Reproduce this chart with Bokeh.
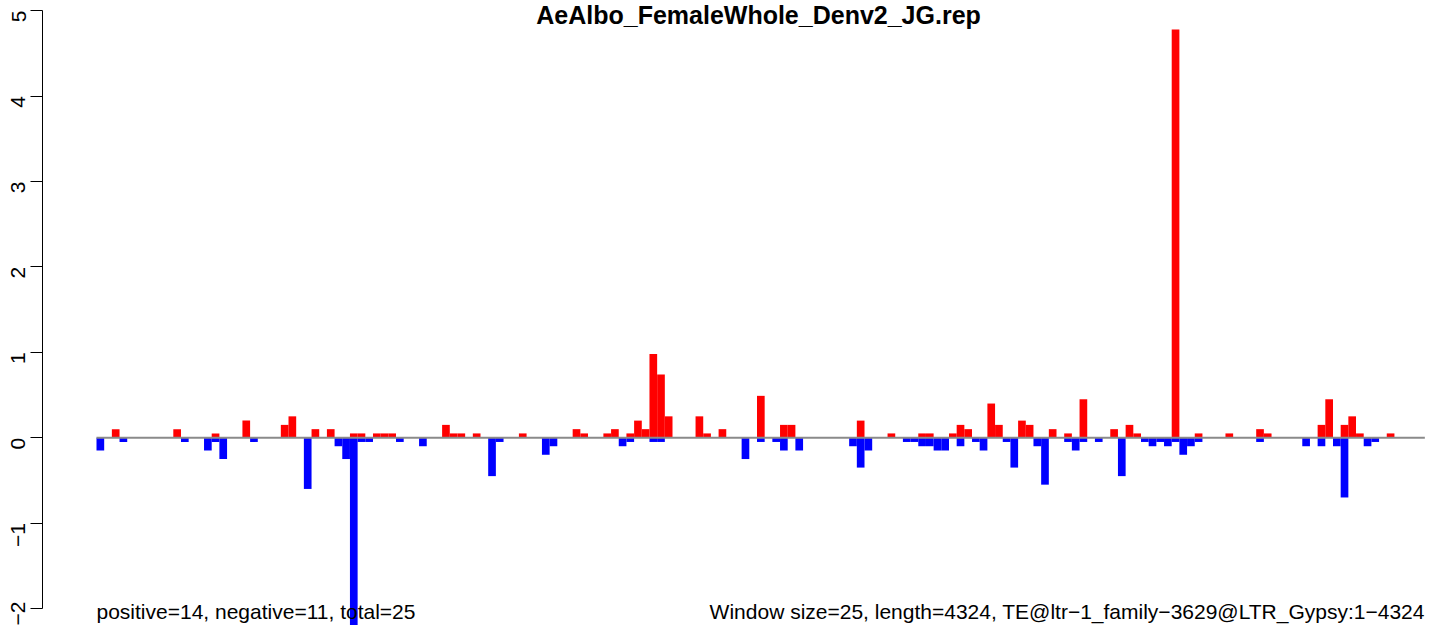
import math
from bokeh.plotting import figure
from bokeh.models import Range1d, LinearAxis, FixedTicker, Label, ColumnDataSource
from bokeh.embed import file_html
from bokeh.resources import INLINE

# ---- data ----
title_text = "AeAlbo_FemaleWhole_Denv2_JG.rep"
left_note = "positive=14, negative=11, total=25"
right_note = "Window size=25, length=4324, TE@ltr\u22121_family\u22123629@LTR_Gypsy:1\u22124324"
window_size = 25
seq_length = 4324
y_ticks = [-2, -1, 0, 1, 2, 3, 4, 5]

pos_windows = [2, 10, 15, 19, 24, 25, 28, 30, 33, 34, 36, 37, 38, 45, 46, 47, 49, 55,
               62, 63, 66, 67, 69, 70, 71, 72, 73, 74, 78, 79, 81, 86, 89, 90, 99, 103,
               107, 108, 111, 112, 113, 116, 117, 120, 121, 124, 126, 128, 132, 134, 135,
               140, 143, 147, 151, 152, 159, 160, 162, 163, 164, 168]
pos_values = [0.1, 0.1, 0.05, 0.2, 0.15, 0.25, 0.1, 0.1, 0.05, 0.05, 0.05, 0.05, 0.05, 0.15, 0.05, 0.05, 0.05, 0.05,
              0.1, 0.05, 0.05, 0.1, 0.05, 0.2, 0.1, 0.98, 0.74, 0.25, 0.25, 0.05, 0.1, 0.49, 0.15, 0.15, 0.2, 0.05,
              0.05, 0.05, 0.05, 0.15, 0.1, 0.4, 0.15, 0.2, 0.15, 0.1, 0.05, 0.45, 0.1, 0.15, 0.05,
              4.78, 0.05, 0.05, 0.1, 0.05, 0.15, 0.45, 0.15, 0.25, 0.05, 0.05]

neg_windows = [0, 3, 11, 14, 15, 16, 20, 27, 31, 32, 33, 34, 35, 39, 42, 51, 52, 58, 59,
               68, 69, 72, 73, 84, 86, 88, 89, 91, 98, 99, 100, 105, 106, 107, 108, 109, 110,
               112, 114, 115, 118, 119, 122, 123, 126, 127, 128, 130, 133, 136, 137, 138, 139,
               140, 141, 142, 143, 151, 157, 159, 161, 162, 165, 166]
neg_values = [-0.15, -0.05, -0.05, -0.15, -0.05, -0.25, -0.05, -0.6, -0.1, -0.25, -2.2, -0.05, -0.05, -0.05, -0.1, -0.45, -0.05, -0.2, -0.1,
              -0.1, -0.05, -0.05, -0.05, -0.25, -0.05, -0.05, -0.15, -0.15, -0.1, -0.35, -0.15, -0.05, -0.05, -0.1, -0.1, -0.15, -0.15,
              -0.1, -0.05, -0.15, -0.05, -0.35, -0.1, -0.55, -0.05, -0.15, -0.05, -0.05, -0.45, -0.05, -0.1, -0.05, -0.1,
              -0.05, -0.2, -0.1, -0.05, -0.05, -0.1, -0.1, -0.1, -0.7, -0.1, -0.05]

FONT = "Liberation Sans"

pos_src = ColumnDataSource(dict(
    left=[w * window_size for w in pos_windows],
    right=[(w + 1) * window_size for w in pos_windows],
    top=pos_values,
    bottom=[0] * len(pos_values),
))
neg_src = ColumnDataSource(dict(
    left=[w * window_size for w in neg_windows],
    right=[(w + 1) * window_size for w in neg_windows],
    top=[0] * len(neg_values),
    bottom=neg_values,
))

p = figure(width=1428, height=625, output_backend="svg", toolbar_location=None,
           x_axis_type=None, y_axis_type=None,
           x_range=Range1d(-175.8, 4335.9), y_range=Range1d(-2.199, 5.119),
           min_border_left=42, min_border_right=0, min_border_top=0, min_border_bottom=0)
p.outline_line_color = None
p.background_fill_color = "white"

p.quad(left="left", right="right", top="top", bottom="bottom", source=pos_src,
       fill_color="#FF0000", line_color=None)
p.quad(left="left", right="right", top="top", bottom="bottom", source=neg_src,
       fill_color="#0000FF", line_color=None)

p.segment(x0=[0], y0=[0], x1=[seq_length], y1=[0], line_color="#8a8a8a", line_width=2)

yaxis = LinearAxis(ticker=FixedTicker(ticks=y_ticks), bounds=(min(y_ticks), max(y_ticks)))
yaxis.major_label_overrides = {t: (str(t).replace("-", "\u2212")) for t in y_ticks}
yaxis.major_label_orientation = math.pi / 2
yaxis.major_tick_out = 12
yaxis.major_tick_in = 0
yaxis.minor_tick_out = 0
yaxis.minor_tick_in = 0
yaxis.major_label_standoff = 12
yaxis.axis_line_color = "black"
yaxis.major_tick_line_color = "black"
yaxis.major_label_text_font = FONT
yaxis.major_label_text_font_size = "21px"
yaxis.major_label_text_color = "black"
p.add_layout(yaxis, "left")

p.add_layout(Label(x=2155, y=5.119, text=title_text, text_align="center", text_baseline="top",
                   text_font=FONT, text_font_style="bold", text_font_size="25px", text_color="black"))
p.add_layout(Label(x=0, y=-2.04, text=left_note, text_align="left", text_baseline="alphabetic",
                   text_font=FONT, text_font_size="21px", text_color="black"))
p.add_layout(Label(x=seq_length, y=-2.04, text=right_note, text_align="right", text_baseline="alphabetic",
                   text_font=FONT, text_font_size="21px", text_color="black"))

open("out.html", "w").write(file_html(p, INLINE))
